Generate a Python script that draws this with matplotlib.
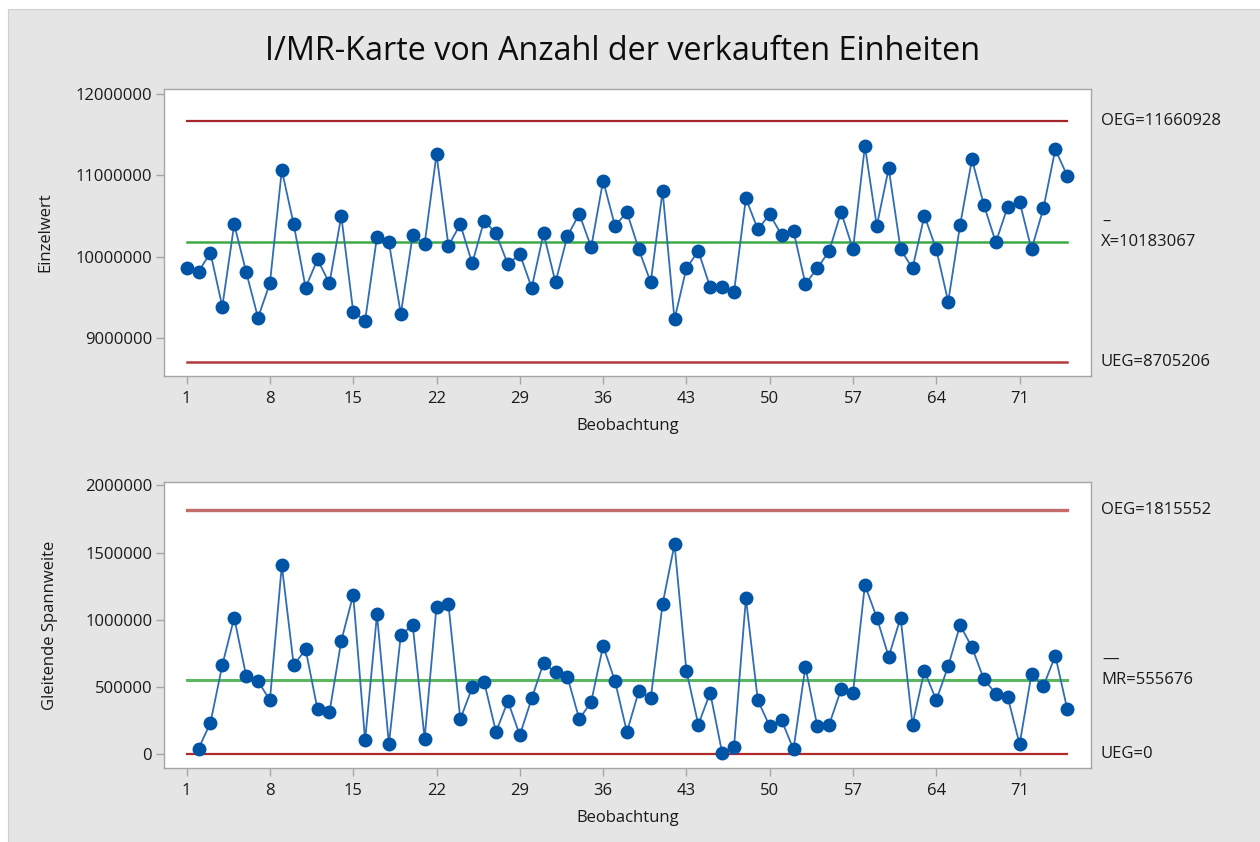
import matplotlib
matplotlib.use("Agg")
import matplotlib.pyplot as plt
import matplotlib.transforms as mtransforms
from matplotlib.patches import Rectangle
import numpy as np

# ---------------- data ----------------
observations = list(range(1, 76))
einzelwert = [
    9858000, 9816000, 10049000, 9387000, 10397000, 9816000, 9252000, 9673000, 11064000, 10397000,
    9620000, 9968000, 9673000, 10499000, 9325000, 9215000, 10245000, 10176000, 9297000, 10266000,
    10156000, 11256000, 10135000, 10397000, 9919000, 10442000, 10287000, 9906000, 10033000, 9620000,
    10287000, 9685000, 10254000, 10524000, 10115000, 10933000, 10377000, 10548000, 10090000, 9685000,
    10806000, 9231000, 9858000, 10070000, 9624000, 9624000, 9563000, 10716000, 10336000, 10520000,
    10266000, 10315000, 9665000, 9858000, 10070000, 10548000, 10090000, 11358000, 10377000, 11084000,
    10090000, 9858000, 10503000, 10090000, 9448000, 10389000, 11195000, 10634000, 10176000, 10613000,
    10675000, 10090000, 10593000, 11317000, 10994000,
]
mr_observations = list(range(2, 76))
gleitende_spannweite = [
    42000, 233000, 663000, 1016000, 584000, 544000, 402000, 1406000, 663000, 780000,
    335000, 311000, 845000, 1185000, 104000, 1041000, 75000, 887000, 961000, 117000,
    1098000, 1118000, 261000, 497000, 539000, 166000, 395000, 142000, 415000, 681000,
    609000, 576000, 261000, 390000, 807000, 544000, 166000, 469000, 415000, 1118000,
    1562000, 621000, 221000, 457000, 13000, 54000, 1160000, 402000, 209000, 253000,
    37000, 651000, 209000, 221000, 482000, 457000, 1259000, 1016000, 725000, 1016000,
    221000, 621000, 402000, 656000, 961000, 795000, 557000, 452000, 427000, 75000,
    596000, 507000, 733000, 338000,
]
i_center, i_ucl, i_lcl = 10183067, 11660928, 8705206
mr_center, mr_ucl, mr_lcl = 555676, 1815552, 0
x_ticks = [1, 8, 15, 22, 29, 36, 43, 50, 57, 64, 71]
i_yticks = [9000000, 10000000, 11000000, 12000000]
mr_yticks = [0, 500000, 1000000, 1500000, 2000000]

title = "I/MR-Karte von Anzahl der verkauften Einheiten"

# ---------------- style ----------------
FONT = ["Open Sans", "DejaVu Sans"]
plt.rcParams["font.family"] = FONT
W, H = 1260, 842
DPI = 100
BG = "#e5e5e5"
SPINE = "#a6a6a6"
BLUE = "#0054a6"
LINEBLUE = "#2f6db5"
TXT = "#1a1a1a"

fig = plt.figure(figsize=(W / DPI, H / DPI), dpi=DPI, facecolor="white")
fig.patches.append(Rectangle((8 / W, -0.01), 1.0, 1 - 9 / H + 0.01, transform=fig.transFigure,
                             facecolor=BG, edgecolor="#d0d0d0", lw=0.8, zorder=-10))


def px_axes(l, t, r, b):
    return fig.add_axes([l / W, 1 - b / H, (r - l) / W, (b - t) / H])


ax1 = px_axes(164, 89, 1091, 376)
ax2 = px_axes(164, 482, 1091, 768)

fig.text(623 / W, 1 - 51 / H, title, ha="center", va="center", fontsize=23.3, color="#0d0d0d")


def style(ax, yticks):
    ax.set_facecolor("white")
    for s in ax.spines.values():
        s.set_color(SPINE)
        s.set_linewidth(1.0)
    ax.tick_params(axis="both", colors=SPINE, length=5.5, width=1.0, labelsize=12, labelcolor=TXT)
    ax.tick_params(axis="y", pad=3)
    ax.tick_params(axis="x", pad=5)
    ax.set_xticks(x_ticks)
    ax.set_xticklabels([str(t) for t in x_ticks])
    ax.set_yticks(yticks)
    ax.set_yticklabels([str(t) for t in yticks])
    ax.set_xlim(-0.9, 77.0)
    ax.set_xlabel("Beobachtung", fontsize=12, color=TXT, labelpad=8)


def limits(ax, ucl, cl, lcl, ucl_style, cl_style, lcl_style):
    xs = [observations[0], observations[-1]]
    ax.plot(xs, [ucl, ucl], **ucl_style, zorder=2)
    ax.plot(xs, [cl, cl], **cl_style, zorder=2)
    ax.plot(xs, [lcl, lcl], **lcl_style, zorder=2)


# ---- I chart ----
style(ax1, i_yticks)
ax1.set_ylim(8536000, 12058000)
limits(ax1, i_ucl, i_center, i_lcl,
       dict(color="#a3262a", lw=1.6), dict(color="#3faa45", lw=1.8), dict(color="#b23a3a", lw=1.8))
ax1.plot(observations, einzelwert, color=LINEBLUE, lw=1.3, zorder=3)
ax1.plot(observations, einzelwert, ls="none", marker="o", ms=9, color=BLUE, zorder=4)

# ---- MR chart ----
style(ax2, mr_yticks)
ax2.set_ylim(-102000, 2025000)
limits(ax2, mr_ucl, mr_center, mr_lcl,
       dict(color="#c46b6b", lw=2.4), dict(color="#5cb860", lw=2.2), dict(color="#b02a2a", lw=1.6))
ax2.plot(mr_observations, gleitende_spannweite, color=LINEBLUE, lw=1.3, zorder=3)
ax2.plot(mr_observations, gleitende_spannweite, ls="none", marker="o", ms=9, color=BLUE, zorder=4)

fig.text(45 / W, 1 - 232 / H, "Einzelwert", rotation=90, ha="center", va="center", fontsize=12, color=TXT)
fig.text(50 / W, 1 - 625 / H, "Gleitende Spannweite", rotation=90, ha="center", va="center",
         fontsize=12, color=TXT)

# ---- right-hand limit labels ----
lx = (1101 - 164) / (1091 - 164)


def side_label(ax, y, text, bar_px=None):
    tr = mtransforms.blended_transform_factory(ax.transAxes, ax.transData)
    ax.text(lx, y, text, transform=tr, ha="left", va="center", fontsize=12, color=TXT, clip_on=False)
    if bar_px is not None:
        trb = mtransforms.offset_copy(tr, fig=fig, x=0, y=20, units="dots")
        ax.text(lx + bar_px[0] / 927, y, bar_px[1], transform=trb, ha="left", va="center",
                fontsize=12, color=TXT, clip_on=False)


side_label(ax1, i_ucl, f"OEG={i_ucl}")
side_label(ax1, i_center, f"X={i_center}", bar_px=(1, "–"))
side_label(ax1, i_lcl, f"UEG={i_lcl}")
side_label(ax2, mr_ucl, f"OEG={mr_ucl}")
side_label(ax2, mr_center, f"MR={mr_center}", bar_px=(1, "—"))
side_label(ax2, mr_lcl, f"UEG={mr_lcl}")

fig.savefig("out.png", dpi=DPI, facecolor=fig.get_facecolor())
